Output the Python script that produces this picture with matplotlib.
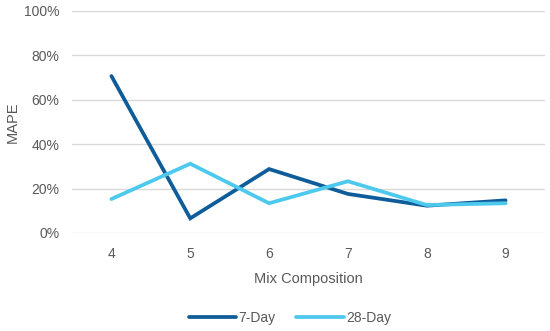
import matplotlib
matplotlib.use("Agg")
import matplotlib.pyplot as plt
from matplotlib.ticker import PercentFormatter

categories = [4, 5, 6, 7, 8, 9]
day7 = [70.7, 6.6, 28.8, 17.6, 12.3, 14.7]
day28 = [15.3, 31.2, 13.4, 23.3, 12.6, 13.4]
yticks = [0, 20, 40, 60, 80, 100]

plt.rcParams['font.family'] = ['Liberation Sans', 'DejaVu Sans']
W, H = 550, 331
fig = plt.figure(figsize=(W/100, H/100), dpi=100)
ax = fig.add_axes([72/W, 1-233/H, (545-72)/W, (233-11)/H])

ax.plot(categories, day7, color='#0E5C99', lw=2.7, label='7-Day', solid_capstyle='round', solid_joinstyle='miter')
ax.plot(categories, day28, color='#4EC9EE', lw=2.7, label='28-Day', solid_capstyle='round', solid_joinstyle='miter')

ax.set_xlim(3.5, 9.5)
ax.set_ylim(0, 100)
ax.set_yticks(yticks)
ax.yaxis.set_major_formatter(PercentFormatter(decimals=0))
ax.set_xticks(categories)
ax.grid(axis='y', color='#D9D9D9', lw=1)
ax.set_axisbelow(True)
for s in ax.spines.values():
    s.set_visible(False)
ax.tick_params(length=0, labelsize=10, colors='#595959', pad=9)
ax.tick_params(axis='x', pad=10)
ax.set_ylabel('MAPE', fontsize=10.5, color='#595959', labelpad=3)
ax.set_xlabel('Mix Composition', fontsize=10.5, color='#595959', labelpad=8)

leg = fig.legend(loc='center', bbox_to_anchor=(290/W, 1-318/H), ncol=2, frameon=False,
                 fontsize=10, handlelength=3.4, columnspacing=1.5, handletextpad=0.2)
for t in leg.get_texts():
    t.set_color('#595959')

fig.savefig('out.png', dpi=100)
